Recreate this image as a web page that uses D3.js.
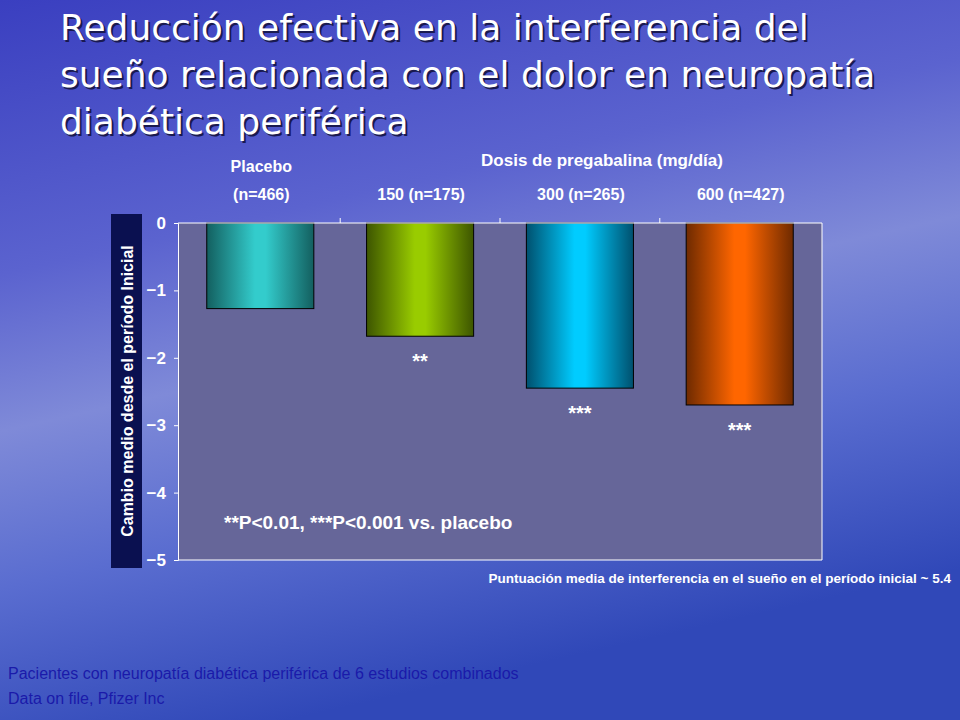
<!DOCTYPE html>
<html><head><meta charset="utf-8">
<script src="https://cdn.jsdelivr.net/npm/d3@7"></script>
<style>body{margin:0;}svg{display:block;font-family:Arial,"Liberation Sans",sans-serif;}</style>
</head><body><svg id="c" width="960" height="720"></svg>
<script>
const categories = ["Placebo", "150", "300", "600"];
const topLabels1 = ["Placebo", "", "", ""];
const topLabels2 = ["(n=466)", "150 (n=175)", "300 (n=265)", "600 (n=427)"];
const values = [-1.27, -1.68, -2.45, -2.70];
const signif = ["", "**", "***", "***"];
const yTicks = [0, -1, -2, -3, -4, -5];
const colors = [["#135f5f","#33cccc"],["#3d5500","#99cc00"],["#00506e","#00ccff"],["#6e2a00","#ff6600"]];

const L = 178, R = 822, T = 223, B = 560;
const svg = d3.select("#c");
const defs = svg.append("defs");
const bg = defs.append("linearGradient").attr("id","bg").attr("x1",0).attr("y1",0).attr("x2",0.3).attr("y2",1);
bg.append("stop").attr("offset","0%").attr("stop-color","#3a3fc0");
bg.append("stop").attr("offset","35%").attr("stop-color","#5b63cf");
bg.append("stop").attr("offset","55%").attr("stop-color","#7f8ad8");
bg.append("stop").attr("offset","75%").attr("stop-color","#5a6dd0");
bg.append("stop").attr("offset","100%").attr("stop-color","#3048b8");
svg.append("rect").attr("width",960).attr("height",720).attr("fill","url(#bg)");

colors.forEach((c,i)=>{
  const g = defs.append("linearGradient").attr("id","g"+i);
  g.append("stop").attr("offset","0%").attr("stop-color",c[0]);
  g.append("stop").attr("offset","45%").attr("stop-color",c[1]);
  g.append("stop").attr("offset","55%").attr("stop-color",c[1]);
  g.append("stop").attr("offset","100%").attr("stop-color",c[0]);
});

const x = d3.scaleBand().domain(categories).range([L,R]).paddingInner(0.33).paddingOuter(0.18);
const y = d3.scaleLinear().domain([-5,0]).range([B,T]);

svg.append("rect").attr("x",111).attr("y",214).attr("width",31).attr("height",354).attr("fill","#0a1050");
svg.append("text").attr("transform","translate(133,391) rotate(-90)").attr("text-anchor","middle")
  .attr("fill","#fff").attr("font-size",16).attr("font-weight","bold").text("Cambio medio desde el período Inicial");

svg.append("rect").attr("x",L).attr("y",T).attr("width",R-L).attr("height",B-T).attr("fill","#666699");

svg.selectAll(".bar").data(values).join("rect")
  .attr("x",(d,i)=>x(categories[i])).attr("y",y(0))
  .attr("width",x.bandwidth()).attr("height",d=>y(d)-y(0))
  .attr("fill",(d,i)=>"url(#g"+i+")").attr("stroke","#000").attr("stroke-width",1);

const ya = svg.append("g").attr("transform","translate("+L+",0)")
  .call(d3.axisLeft(y).tickValues(yTicks).tickSize(4).tickPadding(8).tickFormat(d3.format("d")));
ya.selectAll("text").attr("fill","#fff").attr("font-size",17).attr("font-weight","bold");
ya.selectAll("line,path").attr("stroke","#fff");
const step = x.step();
const bounds = categories.slice(1).map(c=>x(c)-(step-x.bandwidth())/2);
svg.append("line").attr("x1",L).attr("x2",R).attr("y1",T).attr("y2",T).attr("stroke","#fff");
svg.append("line").attr("x1",L).attr("x2",R).attr("y1",B).attr("y2",B).attr("stroke","#fff");
svg.append("line").attr("x1",R).attr("x2",R).attr("y1",T).attr("y2",B).attr("stroke","#fff");
svg.selectAll(".tk").data(bounds).join("line").attr("x1",d=>d).attr("x2",d=>d).attr("y1",T).attr("y2",T-5).attr("stroke","#fff");

svg.selectAll(".sig").data(values).join("text")
  .attr("x",(d,i)=>x(categories[i])+x.bandwidth()/2).attr("y",d=>y(d)+32)
  .attr("text-anchor","middle").attr("fill","#fff").attr("font-size",20).attr("font-weight","bold")
  .text((d,i)=>signif[i]);

const tl = svg.append("g").attr("fill","#fff").attr("font-size",16).attr("font-weight","bold").attr("text-anchor","middle");
tl.selectAll(".t1").data(topLabels1).join("text").attr("x",(d,i)=>x(categories[i])+x.bandwidth()/2+1).attr("y",172).text(d=>d);
tl.selectAll(".t2").data(topLabels2).join("text").attr("x",(d,i)=>x(categories[i])+x.bandwidth()/2+1).attr("y",200).text(d=>d);
tl.append("text").attr("x",602).attr("y",166).attr("font-size",17).text("Dosis de pregabalina (mg/día)");

svg.append("text").attr("x",224).attr("y",529).attr("fill","#fff").attr("font-size",19).attr("font-weight","bold").text("**P<0.01, ***P<0.001 vs. placebo");
svg.append("text").attr("x",951).attr("y",583).attr("text-anchor","end").attr("fill","#fff").attr("font-size",13.5).attr("font-weight","bold").text("Puntuación media de interferencia en el sueño en el período inicial ~ 5.4");

const title = ["Reducción efectiva en la interferencia del","sueño relacionada con el dolor en neuropatía","diabética periférica"];
const tg = svg.append("g").attr("font-size",36).attr("font-family","'DejaVu Sans',Verdana,sans-serif").attr("textLength",null);
tg.selectAll(".sh").data(title).join("text").attr("x",62).attr("y",(d,i)=>42+i*47).attr("fill","#1a1a50").text(d=>d);
tg.selectAll(".tt").data(title).join("text").attr("x",60).attr("y",(d,i)=>40+i*47).attr("fill","#fff").text(d=>d);

svg.append("text").attr("x",8).attr("y",679).attr("fill","#1a1aaa").attr("font-size",16).text("Pacientes con neuropatía diabética periférica de 6 estudios combinados");
svg.append("text").attr("x",8).attr("y",704).attr("fill","#1a1aaa").attr("font-size",16).text("Data on file, Pfizer Inc");
</script></body></html>
